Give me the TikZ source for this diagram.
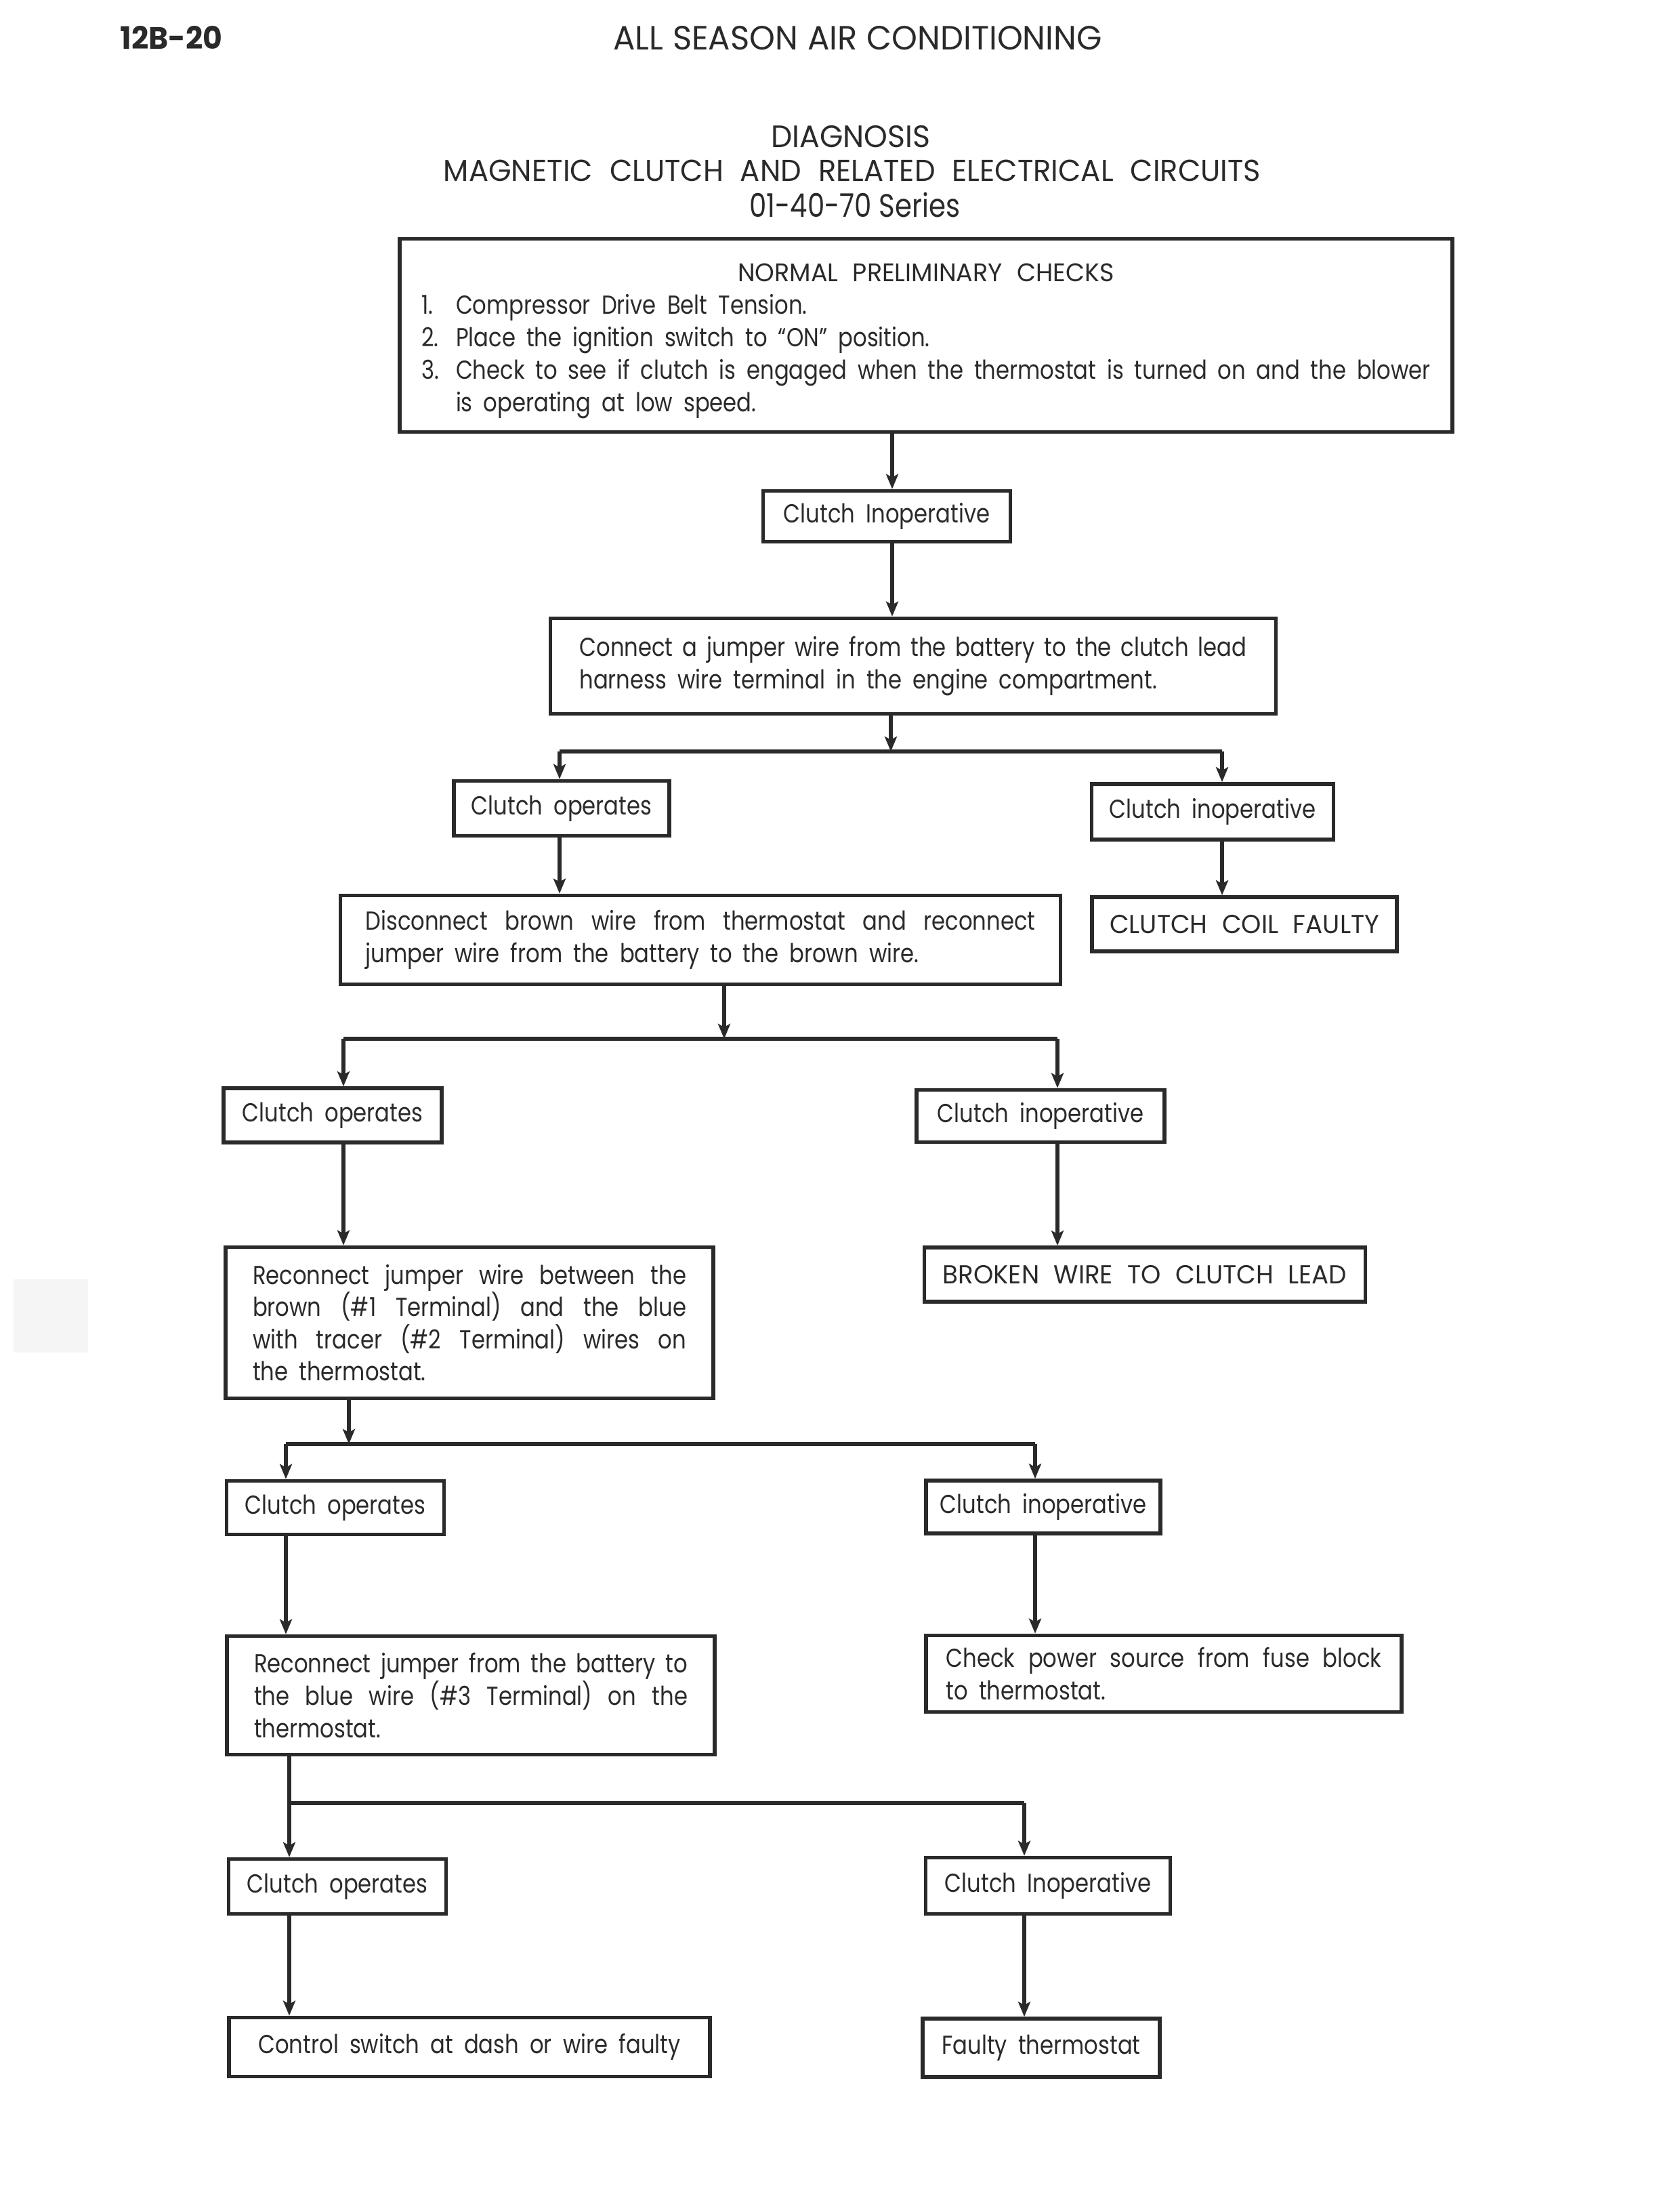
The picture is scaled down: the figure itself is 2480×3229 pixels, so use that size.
\documentclass[tikz,border=0pt]{standalone}
\usepackage{fontspec}
\setmainfont[FakeStretch=0.84]{Poppins}
\newfontfamily\capsfamily[FakeStretch=0.97]{Poppins}
\usetikzlibrary{arrows.meta}
\definecolor{ink}{HTML}{2A2A2A}
\hyphenpenalty=10000
\exhyphenpenalty=10000
\tolerance=9999
\newcommand{\bodyfont}{\fontsize{9.6}{11.9}\selectfont\spaceskip=0.42em plus 0.4em minus 0.12em\relax}
\newcommand{\capsfont}{\capsfamily\spaceskip=0.28em plus 0.2em minus 0.05em\relax}
\newcommand{\headfont}{\fontsize{11.4}{13}\selectfont}
\newcommand{\itemno}[1]{\makebox[12.75pt][l]{#1}}
\tikzset{
  box/.style={draw=ink, line width=1.4pt, inner sep=0pt, font=\bodyfont, text=ink},
  capsbox/.style={box, font=\bodyfont\capsfont},
  para/.style={box, align=justify},
  heading/.style={font=\headfont\capsfont, text=ink, inner sep=0pt},
  flow/.style={draw=ink, line width=1.4pt, -{Stealth[length=5.5pt,width=4.5pt,inset=1.2pt]}},
}
\begin{document}
\begin{tikzpicture}[x=0.25pt,y=-0.25pt]
  \useasboundingbox (0,0) rectangle (2480,3229);
  % page edge tab
  \fill[black!4] (20,1888) rectangle (130,1996);
  % headings
  \node[heading, font=\headfont\capsfont\bfseries] (page) at (253,56) {12B-20};
  \node[heading, font=\fontsize{12.4}{14}\selectfont\capsfont] (section) at (1266,56) {ALL\ SEASON\ AIR\ CONDITIONING};
  \node[heading] (diag) at (1256,202) {DIAGNOSIS};
  \node[heading, font=\fontsize{11.15}{13}\selectfont\capsfont] (subject) at (1258,252) {MAGNETIC\ \ CLUTCH\ \ AND\ \ RELATED\ \ ELECTRICAL\ \ CIRCUITS};
  \node[heading, font=\fontsize{12}{14}\selectfont] (series) at (1262,302) {01-40-70 Series};
  % boxes
  \node[box, minimum width=388.5pt, minimum height=71.25pt] (chk) at (1367,495) {%
    \raisebox{-2pt}[\height][\depth]{\parbox{372.5pt}{\fontsize{9.6}{12}\selectfont
    \centerline{\capsfont\fontsize{9.4}{12}\selectfont NORMAL\ \ PRELIMINARY\ \ CHECKS}\par
    \noindent\itemno{1.}Compressor Drive Belt Tension.\par
    \noindent\itemno{2.}Place the ignition switch to ``ON'' position.\par
    \hangindent=12.75pt\hangafter=1\noindent\itemno{3.}Check to see if clutch is engaged when the thermostat is turned on and the blower\linebreak
    is operating at low speed.\par}}};
  \node[box, minimum width=91.25pt, minimum height=18.75pt] (inop0) at (1309,762) {Clutch Inoperative};
  \node[para, minimum width=267.75pt, minimum height=35.25pt, text width=246.25pt] (jump) at (1348,983) {Connect a jumper wire from the battery to the clutch lead\linebreak harness wire terminal in the engine compartment.};
  \node[box, minimum width=79.5pt, minimum height=20.25pt] (op1) at (829,1193) {Clutch operates};
  \node[box, minimum width=89.25pt, minimum height=20.5pt] (inop1) at (1790,1198) {Clutch inoperative};
  \node[para, minimum width=265.75pt, minimum height=32.75pt, text width=247.25pt] (disc) at (1034,1387) {Disconnect brown wire from thermostat and reconnect\linebreak jumper wire from the battery to the brown wire.};
  \node[capsbox, minimum width=112.5pt, minimum height=20pt] (coil) at (1837,1364) {CLUTCH\ \ COIL\ \ FAULTY};
  \node[box, minimum width=80.5pt, minimum height=20pt] (op2) at (491,1646) {Clutch operates};
  \node[box, minimum width=91.5pt, minimum height=19.25pt] (inop2) at (1536,1647) {Clutch inoperative};
  \node[para, minimum width=180pt, minimum height=55.75pt, text width=160pt] (rec1) at (693,1952) {Reconnect jumper wire between the\linebreak brown (\#1 Terminal) and the blue\linebreak with tracer (\#2 Terminal) wires on\linebreak the thermostat.};
  \node[capsbox, minimum width=162.75pt, minimum height=20pt] (broken) at (1690,1881) {BROKEN\ \ WIRE\ \ TO\ \ CLUTCH\ \ LEAD};
  \node[box, minimum width=80.25pt, minimum height=19.75pt] (op3) at (495,2225) {Clutch operates};
  \node[box, minimum width=86.5pt, minimum height=19.5pt] (inop3) at (1540,2224) {Clutch inoperative};
  \node[para, minimum width=180pt, minimum height=43.75pt, text width=160pt] (rec2) at (695,2502) {Reconnect jumper from the battery to\linebreak the blue wire (\#3 Terminal) on the\linebreak thermostat.};
  \node[para, minimum width=175.5pt, minimum height=28.25pt, text width=160.75pt] (power) at (1718,2470) {Check power source from fuse block\linebreak to thermostat.};
  \node[box, minimum width=80.25pt, minimum height=20.25pt] (op4) at (498,2784) {Clutch operates};
  \node[box, minimum width=90.25pt, minimum height=20.75pt] (inop4) at (1547,2783) {Clutch Inoperative};
  \node[box, minimum width=177.5pt, minimum height=21.75pt] (ctrl) at (693,3021) {Control switch at dash or wire faulty};
  \node[box, minimum width=87.5pt, minimum height=21.5pt] (faulty) at (1537,3022) {Faulty thermostat};
  % trunks and branch points
  \coordinate (t0) at (1317,0);
  \coordinate (j1) at (1315,1109);
  \coordinate (j1l) at (826,1109);
  \coordinate (j1r) at (1804,1109);
  \coordinate (j2) at (1069,1533);
  \coordinate (j2l) at (507,1533);
  \coordinate (j2r) at (1561,1533);
  \coordinate (j3) at (515,2131);
  \coordinate (j3l) at (422,2131);
  \coordinate (j3r) at (1528,2131);
  \coordinate (j4l) at (427,2661);
  \coordinate (j4r) at (1512,2661);
  \begin{scope}[flow]
    \draw (chk.south -| t0) -- (inop0.north -| t0);
    \draw (inop0.south -| t0) -- (jump.north -| t0);
    \draw (jump.south -| j1) -- (j1);
    \draw[-] (j1l) -- (j1r);
    \draw (j1l) -- (op1.north -| j1l);
    \draw (j1r) -- (inop1.north -| j1r);
    \draw (op1.south -| j1l) -- (disc.north -| j1l);
    \draw (inop1.south -| j1r) -- (coil.north -| j1r);
    \draw (disc.south -| j2) -- (j2);
    \draw[-] (j2l) -- (j2r);
    \draw (j2l) -- (op2.north -| j2l);
    \draw (j2r) -- (inop2.north -| j2r);
    \draw (op2.south -| j2l) -- (rec1.north -| j2l);
    \draw (inop2.south -| j2r) -- (broken.north -| j2r);
    \draw (rec1.south -| j3) -- (j3);
    \draw[-] (j3l) -- (j3r);
    \draw (j3l) -- (op3.north -| j3l);
    \draw (j3r) -- (inop3.north -| j3r);
    \draw (op3.south -| j3l) -- (rec2.north -| j3l);
    \draw (inop3.south -| j3r) -- (power.north -| j3r);
    \draw (rec2.south -| j4l) -- (op4.north -| j4l);
    \draw[-] (j4l) -- (j4r);
    \draw (j4r) -- (inop4.north -| j4r);
    \draw (op4.south -| j4l) -- (ctrl.north -| j4l);
    \draw (inop4.south -| j4r) -- (faulty.north -| j4r);
  \end{scope}
\end{tikzpicture}
\end{document}
